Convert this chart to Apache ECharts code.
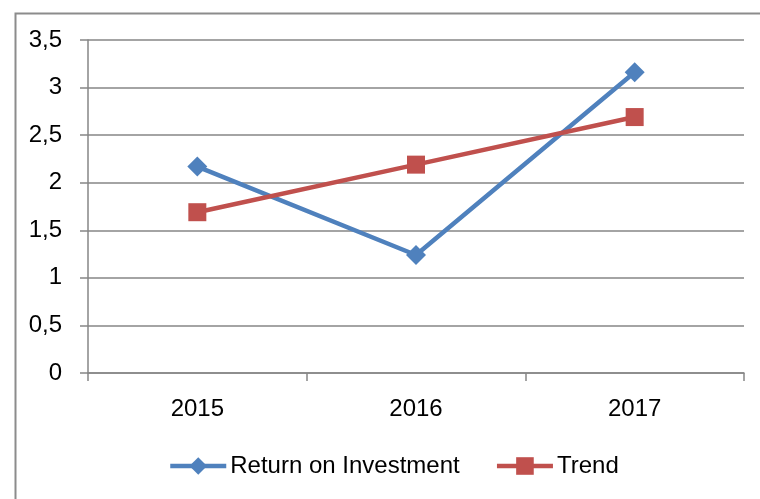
<!DOCTYPE html>
<html><head><meta charset="utf-8">
<script src="https://cdn.jsdelivr.net/npm/echarts@6/dist/echarts.min.js"></script>
<style>html,body{margin:0;padding:0;background:#fff}#c{width:760px;height:499px}</style>
</head><body><div id="c"></div>
<script>
const categories = ['2015', '2016', '2017'];
const roiValues = [2.17, 1.24, 3.16];
const trendValues = [1.69, 2.19, 2.69];
const yTicks = [0, 0.5, 1, 1.5, 2, 2.5, 3, 3.5];

const FONT = 'Liberation Sans';
const chart = echarts.init(document.getElementById('c'), null, {renderer: 'canvas'});
chart.setOption({
  animation: false,
  backgroundColor: '#fff',
  graphic: [{
    type: 'rect', left: 13, top: 11,
    shape: {width: 800, height: 600},
    style: {fill: 'none', stroke: '#8c8c8c', lineWidth: 2},
    silent: true, z: -1
  }],
  grid: {left: 88, right: 16, top: 40, bottom: 126, containLabel: false},
  legend: {
    top: 449, left: 163, itemGap: 35, itemWidth: 56, itemHeight: 22,
    textStyle: {fontFamily: FONT, fontSize: 24, color: '#000', padding: [0, 0, 0, -1]},
    lineStyle: {width: 4.5},
    data: ['Return on Investment', 'Trend']
  },
  xAxis: {
    type: 'category', data: categories, boundaryGap: true,
    axisLine: {lineStyle: {color: '#868686', width: 1.5}},
    axisTick: {show: true, length: 8, lineStyle: {color: '#868686', width: 1.5}},
    axisLabel: {fontFamily: FONT, fontSize: 24, color: '#000', margin: 24}
  },
  yAxis: {
    type: 'value', min: 0, max: 3.5, interval: 0.5,
    axisLine: {show: true, lineStyle: {color: '#868686', width: 1.5}},
    axisTick: {show: true, length: 8, lineStyle: {color: '#868686', width: 1.5}},
    splitLine: {show: true, lineStyle: {color: '#868686', width: 1.5}},
    axisLabel: {
      fontFamily: FONT, fontSize: 24, color: '#000', margin: 26,
      formatter: v => yTicks.includes(v) ? String(v).replace('.', ',') : ''
    }
  },
  series: [
    {
      name: 'Return on Investment', type: 'line', data: roiValues,
      symbol: 'diamond', symbolSize: 20,
      lineStyle: {color: '#4F81BD', width: 4.5},
      itemStyle: {color: '#4F81BD'}, color: '#4F81BD'
    },
    {
      name: 'Trend', type: 'line', data: trendValues,
      symbol: 'rect', symbolSize: 18,
      lineStyle: {color: '#C0504D', width: 4.5},
      itemStyle: {color: '#C0504D'}, color: '#C0504D'
    }
  ]
});
</script></body></html>
